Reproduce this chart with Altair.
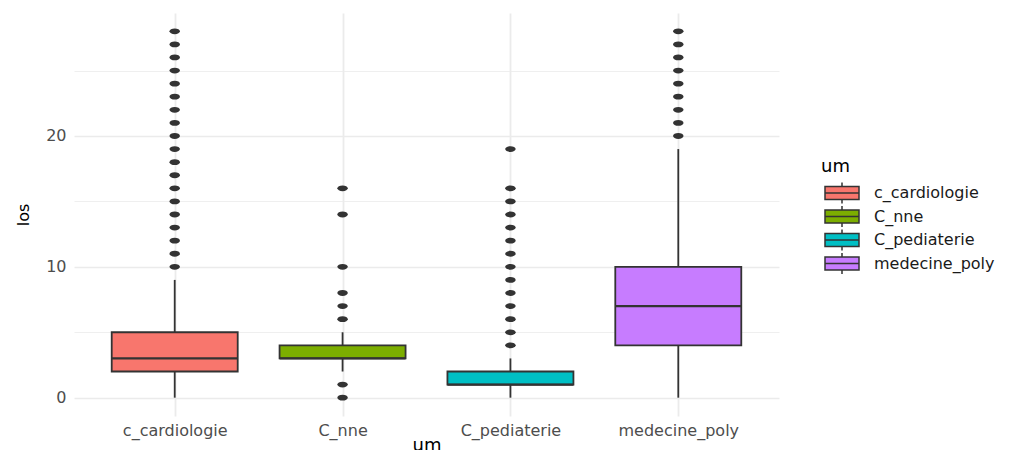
import altair as alt
import pandas as pd

# Box statistics per unit
units = ["c_cardiologie", "C_nne", "C_pediaterie", "medecine_poly"]
fill_colors = ["#F8766D", "#7CAE00", "#00BFC4", "#C77CFF"]
whisker_low = [0, 2, 0, 0]
q1 = [2, 3, 1, 4]
median = [3, 3, 1, 7]
q3 = [5, 4, 2, 10]
whisker_high = [9, 5, 3, 19]

# Outlying length-of-stay values per unit
outliers_cardiologie = [10, 11, 12, 13, 14, 15, 16, 17, 18, 19, 20, 21, 22, 23, 24, 25, 26, 27, 28]
outliers_nne = [0, 1, 6, 7, 8, 10, 14, 16]
outliers_pediaterie = [4, 5, 6, 7, 8, 9, 10, 11, 12, 13, 14, 15, 16, 19]
outliers_poly = [20, 21, 22, 23, 24, 25, 26, 27, 28]

y_ticks = [0, 5, 10, 15, 20, 25]

stats = pd.DataFrame({
    "um": units,
    "wlo": whisker_low,
    "q1": q1,
    "med": median,
    "q3": q3,
    "whi": whisker_high,
})

out_rows = []
for name, vals in zip(units, [outliers_cardiologie, outliers_nne, outliers_pediaterie, outliers_poly]):
    for v in vals:
        out_rows.append({"um": name, "los": v})
outs = pd.DataFrame(out_rows)

FONT = "DejaVu Sans"
INK = "#333333"
BOX_W = 126
LW = 1.8

x_axis = alt.Axis(
    title="um", titleFont=FONT, titleFontSize=18, titleFontWeight="normal",
    titleColor="#000000", titlePadding=-2,
    labelFont=FONT, labelFontSize=16, labelColor="#4D4D4D", labelPadding=6,
    labelAngle=0, domain=False, ticks=False,
    grid=True, gridColor="#EBEBEB", gridWidth=1.8,
)
y_axis = alt.Axis(
    title="los", titleFont=FONT, titleFontSize=16, titleFontWeight="normal",
    titleColor="#000000", titlePadding=14,
    labelFont=FONT, labelFontSize=16, labelColor="#4D4D4D", labelPadding=8,
    values=y_ticks, labelExpr="datum.value % 10 === 0 ? datum.label : ''",
    domain=False, ticks=False,
    grid=True, gridColor="#EBEBEB",
    gridWidth={"condition": {"test": "datum.value % 10 === 0", "value": 1.3}, "value": 0.8},
)

x_enc = alt.X("um:N", sort=units, scale=alt.Scale(type="point", padding=0.6), axis=x_axis)
y_scale = alt.Scale(domain=[-1.4, 29.4], nice=False, zero=False)

# Legend key: a small box with median line and whisker stubs
key_path = (
    "M-0.8,-1.3H6.0V1.3H-0.8Z "
    "M-0.8,0H6.0 "
    "M2.6,-2.1V-1.3 "
    "M2.6,1.3V2.1"
)

ellipse = "M-1,0A1,0.55,0,1,0,1,0A1,0.55,0,1,0,-1,0Z"

base = alt.Chart(stats)

whiskers = base.mark_rule(color=INK, strokeWidth=LW).encode(
    x=x_enc,
    y=alt.Y("wlo:Q", scale=y_scale, axis=y_axis),
    y2="whi:Q",
)

boxes = base.mark_bar(size=BOX_W, stroke=INK, strokeWidth=LW).encode(
    x=x_enc,
    y=alt.Y("q1:Q", scale=y_scale, axis=y_axis),
    y2="q3:Q",
    fill=alt.Fill(
        "um:N",
        sort=units,
        scale=alt.Scale(domain=units, range=fill_colors),
        legend=alt.Legend(
            title="um", orient="none", legendX=747, legendY=145,
            titleFont=FONT, titleFontSize=18, titleFontWeight="normal",
            titleColor="#000000", titlePadding=9,
            labelFont=FONT, labelFontSize=16, labelColor="#1A1A1A",
            labelOffset=37,
            symbolType=key_path, symbolSize=100,
            symbolStrokeColor=INK, symbolStrokeWidth=1.5,
            rowPadding=-4.5,
        ),
    ),
)

medians = base.mark_tick(size=BOX_W, thickness=2.2, color=INK, opacity=1).encode(
    x=x_enc,
    y=alt.Y("med:Q", scale=y_scale, axis=y_axis),
)

points = alt.Chart(outs).mark_point(
    shape=ellipse, filled=True, size=110, color=INK, opacity=1
).encode(
    x=x_enc,
    y=alt.Y("los:Q", scale=y_scale, axis=y_axis),
)

chart = alt.layer(whiskers, boxes, medians, points).properties(
    width=705,
    height=403,
    padding={"left": 74, "top": 13, "right": 242, "bottom": 34},
    autosize=alt.AutoSizeParams(type="none"),
    background="#FFFFFF",
).configure_view(stroke=None)

chart.save("out.html", embed_options={"renderer": "svg", "actions": False})
